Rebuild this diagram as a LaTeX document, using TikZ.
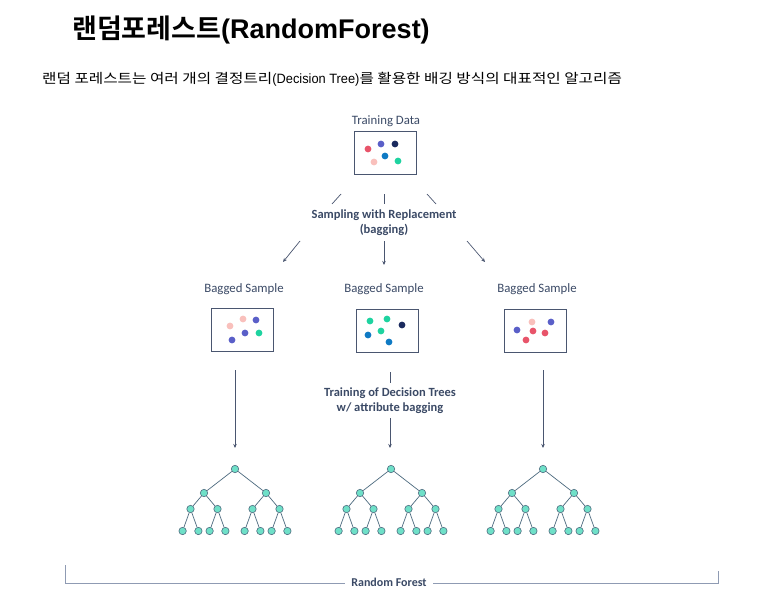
\documentclass[tikz,border=0pt]{standalone}
\usepackage{fontspec}
\setmainfont{Carlito}
\newfontfamily\krfont{Noto Sans CJK KR}[BoldFont={* Bold}]
\newfontfamily\krwide{Noto Sans CJK KR}[FakeStretch=1.16]
\newfontfamily\arialfont{Liberation Sans}
\newfontfamily\arialnarrow{Liberation Sans}[FakeStretch=0.95]
\usetikzlibrary{arrows.meta,calc}
\definecolor{txt}{HTML}{3B4A66}
\definecolor{arr}{HTML}{4A5670}
\definecolor{brk}{HTML}{8F9BB3}
\definecolor{dred}{HTML}{E8546A}
\definecolor{dpur}{HTML}{5A5FC8}
\definecolor{dnav}{HTML}{1A2A5E}
\definecolor{dblu}{HTML}{0F7AC4}
\definecolor{dpnk}{HTML}{F9C0BC}
\definecolor{dgrn}{HTML}{1ED3A0}
\definecolor{tfill}{HTML}{6FE0C8}
\definecolor{tline}{HTML}{4D6B7F}
\tikzset{
  lbl/.style={text=txt,font=\fontsize{12.8}{15}\selectfont,inner sep=0pt},
  blbl/.style={text=txt,font=\fontsize{12.5}{15}\selectfont\bfseries,inner sep=0pt,align=center},
  databox/.style={draw=arr,line width=0.8pt,minimum width=62pt,minimum height=43pt,inner sep=0pt},
  dot/.style={circle,fill=#1,minimum size=6.8pt,inner sep=0pt},
  tn/.style={circle,draw=tline,fill=tfill,line width=0.6pt,minimum size=7.4pt,inner sep=0pt},
  tedge/.style={draw=tline,line width=0.7pt},
  conn/.style={draw=arr,line width=0.7pt},
  connar/.style={draw=arr,line width=0.7pt,-{Stealth[length=4pt,width=3.5pt]}},
  bracket/.style={draw=brk,line width=0.9pt},
}
\newcommand\drawtree[2]{%
  \node[tn] (#1) at (#2,469) {};
  \foreach \a/\dx in {1/-31,2/31}{%
    \node[tn] (#1-\a) at ([shift={(\dx,24)}]#1) {};
    \draw[tedge] (#1) -- (#1-\a);
    \foreach \b/\ex in {1/-13.5,2/13.5}{%
      \node[tn] (#1-\a-\b) at ([shift={(\ex,16)}]#1-\a) {};
      \draw[tedge] (#1-\a) -- (#1-\a-\b);
      \foreach \c/\fx in {1/-7.9,2/7.9}{%
        \node[tn] (#1-\a-\b-\c) at ([shift={(\fx,22)}]#1-\a-\b) {};
        \draw[tedge] (#1-\a-\b) -- (#1-\a-\b-\c);
      }
    }
  }
}
\begin{document}
\begin{tikzpicture}[x=1pt,y=-1pt]
\useasboundingbox[fill=white] (0,0) rectangle (763,605);
% title
\node[anchor=west,inner sep=0pt] (title) at (72,30) {\fontsize{27}{32}\selectfont\bfseries{\krfont 랜덤포레스트}{\arialfont (RandomForest)}};
\node[anchor=west,inner sep=0pt] (sub) at (42,79) {\fontsize{13.5}{16}\selectfont{\krwide 랜덤 포레스트는 여러 개의 결정트리}{\arialnarrow (Decision Tree)}{\krwide 를 활용한 배깅 방식의 대표적인 알고리즘}};
% training data
\node[lbl] (tdl) at (386,121) {Training Data};
\node[databox] (td) at (385.5,152.5) {};
\node[dot=dred] (t1) at (368,149) {};
\node[dot=dpur] (t2) at (381,144) {};
\node[dot=dnav] (t3) at (395,144) {};
\node[dot=dblu] (t4) at (385,156) {};
\node[dot=dpnk] (t5) at (374,162) {};
\node[dot=dgrn] (t6) at (398,161) {};
% sampling
\node[blbl] (samp) at (384,222.5) {Sampling with Replacement\\(bagging)};
\coordinate (u1a) at (341,194); \coordinate (u1b) at (332,204);
\coordinate (u2a) at (384,194); \coordinate (u2b) at (384,204);
\coordinate (u3a) at (427,194); \coordinate (u3b) at (436,204);
\draw[conn] (u1a) -- (u1b);
\draw[conn] (u2a) -- (u2b);
\draw[conn] (u3a) -- (u3b);
\coordinate (d1a) at (300,241); \coordinate (d1b) at (283,262);
\coordinate (d2a) at (384,241); \coordinate (d2b) at (384,265);
\coordinate (d3a) at (467,241); \coordinate (d3b) at (485,262);
\draw[connar] (d1a) -- (d1b);
\draw[connar] (d2a) -- (d2b);
\draw[connar] (d3a) -- (d3b);
% bagged samples
\node[lbl] (bl1) at (244,289) {Bagged Sample};
\node[lbl] (bl2) at (384,289) {Bagged Sample};
\node[lbl] (bl3) at (537,289) {Bagged Sample};
\node[databox] (b1) at (242,329.5) {};
\node[databox] (b2) at (387,330.5) {};
\node[databox] (b3) at (535.5,331) {};
\node[dot=dpnk] (a1) at (230,326) {};
\node[dot=dpnk] (a2) at (243,319) {};
\node[dot=dpur] (a3) at (256,320) {};
\node[dot=dpur] (a4) at (245,333) {};
\node[dot=dgrn] (a5) at (259,333) {};
\node[dot=dpur] (a6) at (232,340) {};
\node[dot=dgrn] (m1) at (370,321) {};
\node[dot=dgrn] (m2) at (387,319) {};
\node[dot=dnav] (m3) at (402,325) {};
\node[dot=dgrn] (m4) at (381,331) {};
\node[dot=dblu] (m5) at (368,335) {};
\node[dot=dblu] (m6) at (389,342) {};
\node[dot=dpnk] (r1) at (532,322) {};
\node[dot=dpur] (r2) at (551,322) {};
\node[dot=dpur] (r3) at (517,330) {};
\node[dot=dred] (r4) at (533,331) {};
\node[dot=dred] (r5) at (545,333) {};
\node[dot=dred] (r6) at (526,340) {};
% training of trees
\node[blbl] (tr) at (390,400.5) {Training of Decision Trees\\w/ attribute bagging};
\coordinate (v2a) at (390,372); \coordinate (v2b) at (390,383);
\draw[conn] (v2a) -- (v2b);
\coordinate (w2a) at (390,418); \coordinate (w2b) at (390,448);
\draw[connar] (w2a) -- (w2b);
\coordinate (w1a) at (235,370); \coordinate (w1b) at (235,448);
\draw[connar] (w1a) -- (w1b);
\coordinate (w3a) at (543,370); \coordinate (w3b) at (543,448);
\draw[connar] (w3a) -- (w3b);
% trees
\drawtree{ta}{235}
\drawtree{tb}{391}
\drawtree{tc}{543}
% bracket
\node[text=txt,font=\fontsize{12}{14}\selectfont\bfseries,inner sep=0pt] (rf) at (389,582.5) {Random Forest};
\coordinate (bl) at (65,565); \coordinate (blc) at (65,583);
\coordinate (br) at (718,571); \coordinate (brc) at (718,583);
\draw[bracket] (bl) -- (blc) -- ([xshift=-6pt]rf.west |- blc);
\draw[bracket] (br) -- (brc) -- ([xshift=6pt]rf.east |- brc);
\end{tikzpicture}
\end{document}
